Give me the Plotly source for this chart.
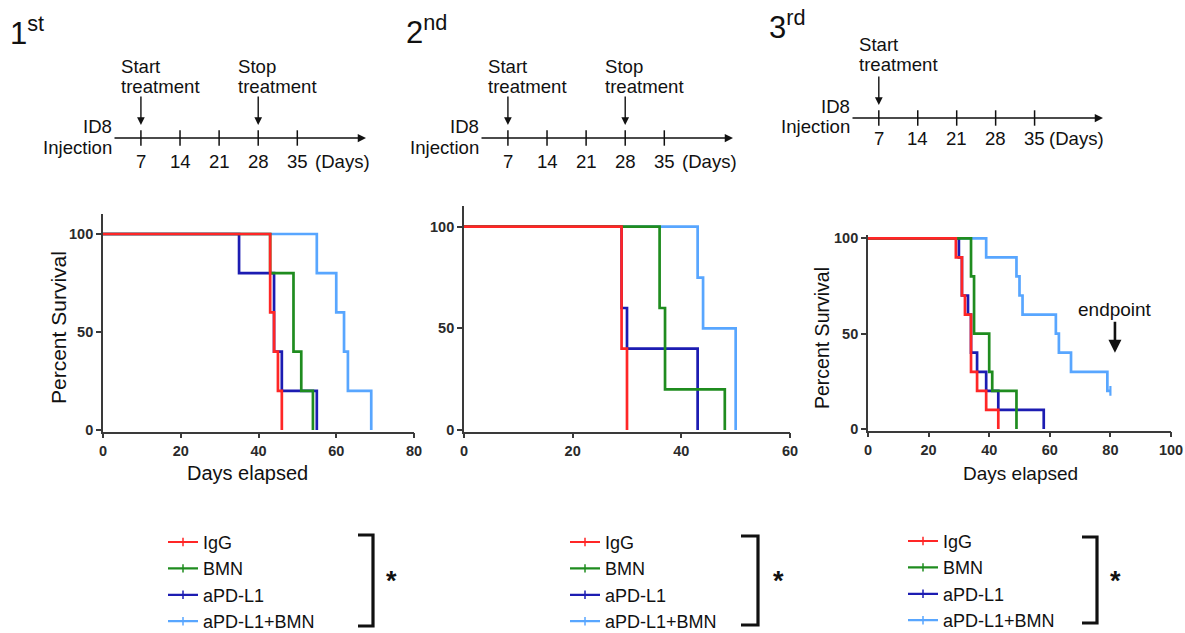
import plotly.graph_objects as go

W, H = 1185, 633

# ---------------- data ----------------
groups = ["IgG", "BMN", "aPD-L1", "aPD-L1+BMN"]
colors = ["#ff2626", "#1f8c1f", "#1c1cb2", "#58a6ff"]

# Kaplan-Meier step points (day, percent survival after that day)
exp1_igg_days = [0, 43, 44, 45, 46]
exp1_igg_surv = [100, 60, 40, 20, 0]
exp1_bmn_days = [0, 43, 49, 51, 54]
exp1_bmn_surv = [100, 80, 40, 20, 0]
exp1_pdl1_days = [0, 35, 44, 46, 55]
exp1_pdl1_surv = [100, 80, 40, 20, 0]
exp1_combo_days = [0, 55, 60, 62, 63, 69]
exp1_combo_surv = [100, 80, 60, 40, 20, 0]

exp2_igg_days = [0, 29, 30]
exp2_igg_surv = [100, 40, 0]
exp2_bmn_days = [0, 36, 37, 48]
exp2_bmn_surv = [100, 60, 20, 0]
exp2_pdl1_days = [0, 29, 30, 43]
exp2_pdl1_surv = [100, 60, 40, 0]
exp2_combo_days = [0, 43, 44, 50]
exp2_combo_surv = [100, 75, 50, 0]

exp3_igg_days = [0, 29, 31, 32, 34, 36, 39, 43]
exp3_igg_surv = [100, 90, 70, 60, 30, 20, 10, 0]
exp3_bmn_days = [0, 34, 35, 40, 41, 49]
exp3_bmn_surv = [100, 80, 50, 30, 20, 0]
exp3_pdl1_days = [0, 30, 31, 33, 34, 36, 39, 43, 58]
exp3_pdl1_surv = [100, 90, 70, 60, 40, 30, 20, 10, 0]
exp3_combo_days = [0, 39, 49, 50, 51, 62, 63, 67, 79, 80]
exp3_combo_surv = [100, 90, 80, 70, 60, 50, 40, 30, 20, 20]
exp3_censor_days = [80]
exp3_censor_surv = [20]

timeline_days = [7, 14, 21, 28, 35]
treatment_start_day = 7
treatment_stop_day = 28

panel_titles = ["1<sup>st</sup>", "2<sup>nd</sup>", "3<sup>rd</sup>"]

# ---------------- helpers ----------------
def fx(px):
    return px / W


def fy(py):
    return 1 - py / H


FONT = "Liberation Sans, Arial, sans-serif"
AXCOL = "#3a3a3a"

fig = go.Figure()

experiments = [
    [(exp1_igg_days, exp1_igg_surv), (exp1_bmn_days, exp1_bmn_surv),
     (exp1_pdl1_days, exp1_pdl1_surv), (exp1_combo_days, exp1_combo_surv)],
    [(exp2_igg_days, exp2_igg_surv), (exp2_bmn_days, exp2_bmn_surv),
     (exp2_pdl1_days, exp2_pdl1_surv), (exp2_combo_days, exp2_combo_surv)],
    [(exp3_igg_days, exp3_igg_surv), (exp3_bmn_days, exp3_bmn_surv),
     (exp3_pdl1_days, exp3_pdl1_surv), (exp3_combo_days, exp3_combo_surv)],
]

draw_order = [3, 2, 1, 0]  # light blue at bottom, red on top
for p, exp in enumerate(experiments):
    xa = "x" if p == 0 else f"x{p + 1}"
    ya = "y" if p == 0 else f"y{p + 1}"
    for gi in draw_order:
        d, s = exp[gi]
        fig.add_trace(go.Scatter(x=d, y=s, mode="lines", line=dict(color=colors[gi], width=2.7, shape="hv"),
                                 xaxis=xa, yaxis=ya, showlegend=False, hoverinfo="skip"))

# censored mark (exp 3, combination)
fig.add_trace(go.Scatter(x=exp3_censor_days, y=exp3_censor_surv, mode="markers", xaxis="x3", yaxis="y3",
                         marker=dict(symbol="line-ns", size=7, line=dict(color=colors[3], width=2.2)),
                         showlegend=False, hoverinfo="skip"))

# legend entries (Prism style: line with small tick)
legend_names = ["legend", "legend2", "legend3"]
for p in range(3):
    for gi, g in enumerate(groups):
        fig.add_trace(go.Scatter(x=[None], y=[None], mode="lines+markers", name=g,
                                 line=dict(color=colors[gi], width=2.2),
                                 marker=dict(symbol="line-ns", size=6, line=dict(color=colors[gi], width=1.5)),
                                 legend=legend_names[p], showlegend=True))

# ---------------- survival axes ----------------
ax_common = dict(showgrid=False, zeroline=False, showline=True, linecolor=AXCOL, linewidth=1.7,
                 ticks="outside", ticklen=5, tickwidth=1.7, tickcolor=AXCOL, ticklabeloverflow="allow",
                 tickfont=dict(family=FONT, size=14.5, color="#2a2a2a", weight=700))

layout = dict(
    width=W, height=H, margin=dict(l=0, r=0, t=0, b=0, autoexpand=False),
    paper_bgcolor="white", plot_bgcolor="white",
    font=dict(family=FONT, color="#111"),
    xaxis=dict(domain=[fx(103), fx(414)], range=[0, 80], dtick=20, anchor="y", **ax_common),
    yaxis=dict(domain=[fy(431.6), fy(214.4)], range=[-0.8, 110], tickvals=[0, 50, 100], anchor="x", **ax_common),
    xaxis2=dict(domain=[fx(464), fx(790)], range=[0, 60], dtick=20, anchor="y2", **ax_common),
    yaxis2=dict(domain=[fy(431.6), fy(206.4)], range=[-0.8, 110], tickvals=[0, 50, 100], anchor="x2",
                **ax_common),
    xaxis3=dict(domain=[fx(868), fx(1171)], range=[0, 100], dtick=20, anchor="y3", **ax_common),
    yaxis3=dict(domain=[fy(430.5), fy(234.5)], range=[-0.8, 102], tickvals=[0, 50, 100], anchor="x3",
                **ax_common),
)

annotations = []
shapes = []


def txt(text, px, py, size, **kw):
    d = dict(text=text, x=fx(px), y=fy(py), xref="paper", yref="paper", showarrow=False,
             xanchor="center", yanchor="middle", font=dict(size=size, family=FONT, color="#111"))
    d.update(kw)
    return d


# axis titles
annotations += [
    txt("Percent Survival", 59, 328, 21, textangle=-90),
    txt("Days elapsed", 247, 473, 20),
    txt("Percent Survival", 822, 338, 19.5, textangle=-90),
    txt("Days elapsed", 1020, 473, 19),
]

# endpoint annotation (exp 3)
annotations.append(dict(text="endpoint", x=81.5, y=40, xref="x3", yref="y3", showarrow=True,
                        ax=0, ay=-43, arrowhead=2, arrowsize=1.0, arrowwidth=2.6, arrowcolor="#111",
                        font=dict(size=19, family=FONT, color="#111")))

# panel titles
for t, (px, py) in zip(panel_titles, [(8, 31), (404, 30), (767, 25)]):
    annotations.append(txt(t, px, py, 31, xanchor="left"))

# ---------------- timelines ----------------
TL_FONT = 18.6
tl_range = [2.0, 47.3]
timeline_specs = [
    dict(idx=4, x0=113, x1=366, yline=138, label_gap=24, days_gap=16, text_up=(71, 51), id_dy=(-11, 10),
         stop=True),
    dict(idx=5, x0=480, x1=733, yline=138, label_gap=24, days_gap=16, text_up=(71, 51), id_dy=(-11, 10),
         stop=True),
    dict(idx=6, x0=851, x1=1103, yline=118, label_gap=20, days_gap=12, text_up=(73, 53), id_dy=(-11.5, 8.5),
         stop=False),
]
for spec in timeline_specs:
    i = spec["idx"]
    xa, ya = f"x{i}", f"y{i}"
    yl = spec["yline"]
    layout[f"xaxis{i}"] = dict(domain=[fx(spec["x0"]), fx(spec["x1"])], range=tl_range, visible=False,
                               anchor=ya, fixedrange=True)
    layout[f"yaxis{i}"] = dict(domain=[fy(yl + 10), fy(yl - 10)], range=[-1, 1], visible=False,
                               anchor=xa, fixedrange=True)
    # main arrow line
    annotations.append(dict(x=tl_range[1], y=0, ax=tl_range[0], ay=0, xref=xa, yref=ya, axref=xa, ayref=ya,
                            text="", showarrow=True, arrowhead=2, arrowsize=1.1, arrowwidth=1.5,
                            arrowcolor="#111"))
    # tick marks
    fig.add_trace(go.Scatter(x=timeline_days, y=[0] * len(timeline_days), mode="markers", xaxis=xa, yaxis=ya,
                             marker=dict(symbol="line-ns", size=11, line=dict(color="#111", width=1.5)),
                             showlegend=False, hoverinfo="skip"))
    # day labels
    for d in timeline_days:
        annotations.append(dict(text=str(d), x=d, y=0, xref=xa, yref=ya, yshift=-spec["label_gap"],
                                xanchor="center", yanchor="middle",
                                showarrow=False, font=dict(size=TL_FONT, family=FONT, color="#111")))
    annotations.append(dict(text="(Days)", x=timeline_days[-1], y=0, xref=xa, yref=ya,
                            yshift=-spec["label_gap"], xshift=spec["days_gap"], xanchor="left",
                            yanchor="middle", showarrow=False, font=dict(size=TL_FONT, family=FONT, color="#111")))
    # ID8 injection
    for label, off in zip(["ID8", "Injection"], spec["id_dy"]):
        annotations.append(dict(text=label, x=tl_range[0], y=0, xref=xa, yref=ya, xanchor="right",
                                yanchor="middle", showarrow=False, yshift=-off, xshift=1,
                                font=dict(size=TL_FONT, family=FONT, color="#111")))
    events = [(treatment_start_day, "Start")]
    if spec["stop"]:
        events.append((treatment_stop_day, "Stop"))
    for d, label in events:
        annotations.append(dict(x=d, y=0, xref=xa, yref=ya, text="", showarrow=True, ax=0, ay=-43,
                                standoff=13, arrowhead=2, arrowsize=1.1, arrowwidth=1.4, arrowcolor="#111"))
        for line_text, up in zip([label, "treatment"], spec["text_up"]):
            annotations.append(dict(text=line_text, x=d, y=0, xref=xa, yref=ya, xanchor="left",
                                    yanchor="middle", xshift=-22, yshift=up, showarrow=False,
                                    font=dict(size=TL_FONT, family=FONT, color="#111")))

# ---------------- legends & brackets ----------------
LEG_FONT = 18
item_h = 1.3 * LEG_FONT + 3
legend_pos = [(205, 542), (607, 542), (945, 541)]  # text start x, first row centre y (px)
for name, (tx, ty) in zip(legend_names, legend_pos):
    left = tx - 42
    top = ty - 5 - item_h / 2
    layout[name] = dict(x=left / W, y=1 - top / H, xanchor="left", yanchor="top",
                        bgcolor="rgba(0,0,0,0)", font=dict(size=LEG_FONT, family=FONT, color="#111"),
                        itemwidth=30, tracegroupgap=0, traceorder="normal",
                        itemclick=False, itemdoubleclick=False)

brackets = [(358, 373, 535, 626, 391), (741, 758, 536, 625, 778), (1082, 1097, 537, 623, 1115)]
for xl, xr, yt, yb, astx in brackets:
    shapes.append(dict(type="path", xref="paper", yref="paper",
                       path=f"M {fx(xl)},{fy(yt)} L {fx(xr)},{fy(yt)} L {fx(xr)},{fy(yb)} L {fx(xl)},{fy(yb)}",
                       line=dict(color="#111", width=3.2)))
    annotations.append(txt("<b>*</b>", astx, 581, 27))

layout["annotations"] = annotations
layout["shapes"] = shapes
fig.update_layout(**layout)

post = ("document.documentElement.style.margin='0';document.documentElement.style.overflow='hidden';"
        "document.body.style.margin='0';document.body.style.padding='0';document.body.style.overflow='hidden';")
fig.write_html("out.html", config={"displayModeBar": False}, post_script=post)
